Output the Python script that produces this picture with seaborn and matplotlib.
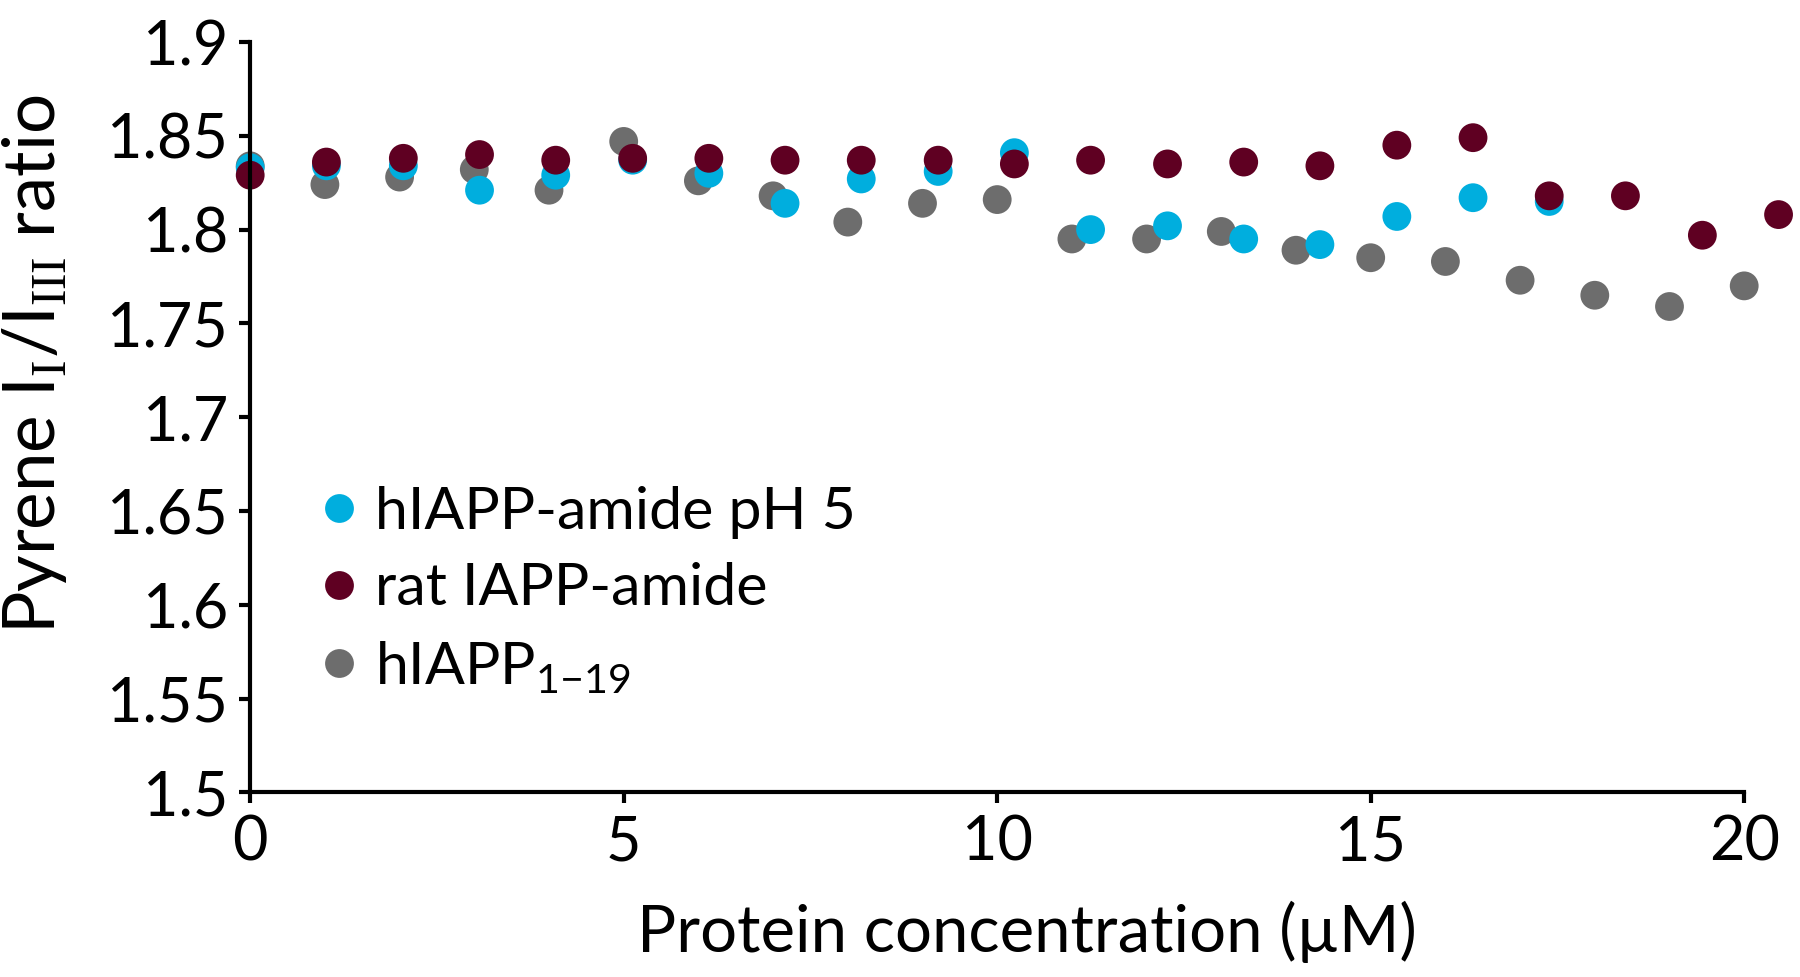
import matplotlib
matplotlib.use('Agg')
import matplotlib.pyplot as plt
import pandas as pd
import seaborn as sns

# values
hiapp_ph5_x = [0, 1.02, 2.05, 3.07, 4.09, 5.12, 6.14, 7.16, 8.18, 9.21,
               10.23, 11.25, 12.28, 13.3, 14.32, 15.35, 16.37, 17.39]
hiapp_ph5_y = [1.833, 1.834, 1.834, 1.821, 1.829, 1.837, 1.830, 1.814, 1.827, 1.831,
               1.841, 1.800, 1.802, 1.795, 1.792, 1.807, 1.817, 1.815]

rat_x = [0, 1.02, 2.05, 3.07, 4.09, 5.12, 6.14, 7.16, 8.18, 9.21, 10.23,
         11.25, 12.28, 13.3, 14.32, 15.35, 16.37, 17.39, 18.41, 19.44, 20.46]
rat_y = [1.829, 1.836, 1.838, 1.840, 1.837, 1.838, 1.838, 1.837, 1.837, 1.837, 1.835,
         1.837, 1.835, 1.836, 1.834, 1.845, 1.849, 1.818, 1.818, 1.797, 1.808]

frag_x = list(range(21))
frag_y = [1.834, 1.824, 1.828, 1.832, 1.821, 1.847, 1.826, 1.818, 1.804, 1.814, 1.816,
          1.795, 1.795, 1.799, 1.789, 1.785, 1.783, 1.773, 1.765, 1.759, 1.770]

labels = ['hIAPP-amide pH 5', 'rat IAPP-amide', r'hIAPP$_{\mathregular{1{-}19}}$']
colors = ['#00aede', '#5f0022', '#6d6d6d']

sns.set_style('ticks')
plt.rcParams['font.family'] = ['Lato', 'DejaVu Sans']
plt.rcParams['mathtext.fontset'] = 'custom'
plt.rcParams['mathtext.rm'] = 'Liberation Serif'
plt.rcParams['text.color'] = 'black'
plt.rcParams['axes.labelcolor'] = 'black'

# gray first, then cyan, red on top
data = pd.concat([
    pd.DataFrame({'conc': frag_x, 'ratio': frag_y, 'sample': labels[2]}),
    pd.DataFrame({'conc': hiapp_ph5_x, 'ratio': hiapp_ph5_y, 'sample': labels[0]}),
    pd.DataFrame({'conc': rat_x, 'ratio': rat_y, 'sample': labels[1]}),
])

fig = plt.figure(figsize=(18, 9.77), dpi=100)
ax = fig.add_axes([0.139, 0.189, 0.83, 0.768])

sns.scatterplot(data=data, x='conc', y='ratio', hue='sample', hue_order=labels,
                palette=dict(zip(labels, colors)), s=430, linewidth=0,
                ax=ax, clip_on=False)

ax.set_xlim(0, 20)
ax.set_ylim(1.5, 1.9)
ax.set_xticks([0, 5, 10, 15, 20])
ax.set_xticklabels(['0', '5', '10', '15', '20'])
ax.set_yticks([1.5, 1.55, 1.6, 1.65, 1.7, 1.75, 1.8, 1.85, 1.9])
ax.set_yticklabels(['1.5', '1.55', '1.6', '1.65', '1.7', '1.75', '1.8', '1.85', '1.9'])
sns.despine(ax=ax)
for side in ['left', 'bottom']:
    ax.spines[side].set_linewidth(3)
    ax.spines[side].set_color('black')
ax.tick_params(axis='both', length=8, width=3, labelsize=44, pad=8, colors='black')

ax.set_xlabel('Protein concentration (µM)', fontsize=47)
ax.set_ylabel(r'Pyrene I$_\mathrm{I}$/I$_\mathrm{III}$ ratio', fontsize=51)
ax.yaxis.set_label_coords(-0.121, 0.57)
ax.xaxis.set_label_coords(0.52, -0.145)

leg = ax.legend(loc='upper left', bbox_to_anchor=(0.02, 0.44), frameon=False,
                fontsize=42.5, handletextpad=0.0, labelspacing=0.4, markerscale=1.0,
                handlelength=1.2, borderaxespad=0)

fig.savefig('out.png', dpi=100)
